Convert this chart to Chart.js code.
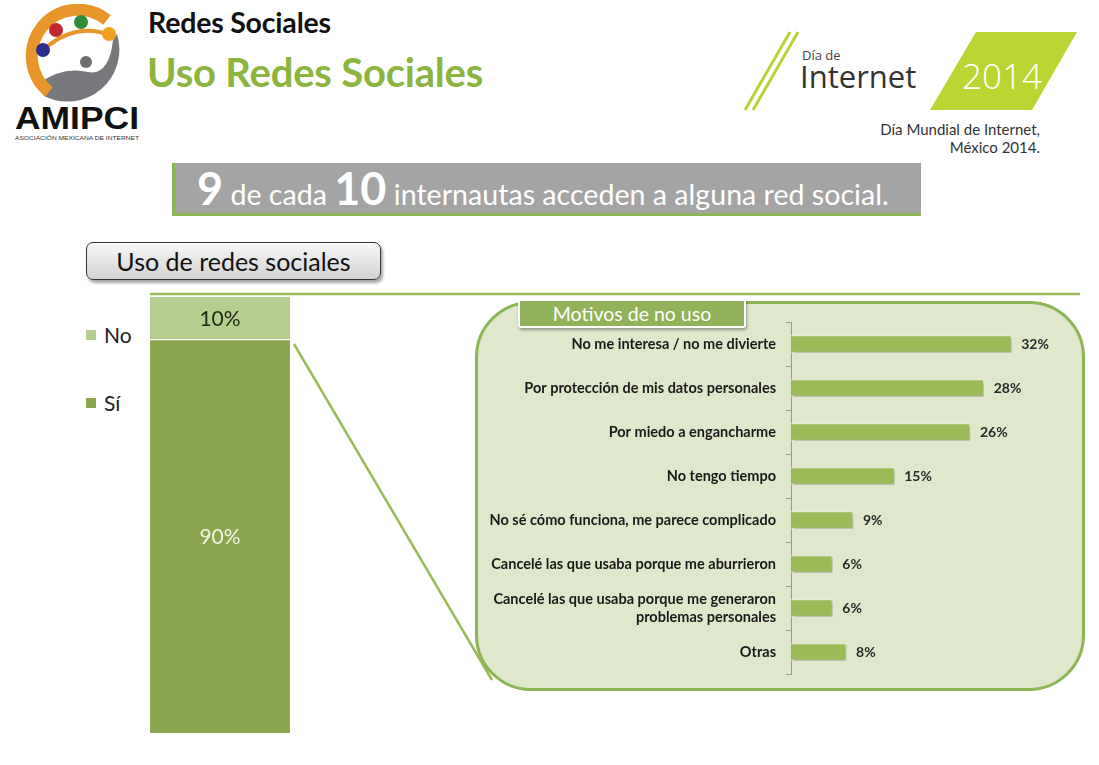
<!DOCTYPE html>
<html>
<head>
<meta charset="utf-8">
<script src="https://cdn.jsdelivr.net/npm/chart.js@4.4.0/dist/chart.umd.min.js"></script>
<style>
  html, body { margin: 0; padding: 0; background: #fff; }
  body { width: 1099px; height: 765px; position: relative; overflow: hidden; font-family: Lato, "Open Sans", sans-serif; }
  .abs { position: absolute; }
  #title1 { left: 148px; top: 5px; font-size: 28.5px; font-weight: 700; color: #111; letter-spacing: -0.2px; }
  #title2 { left: 147px; top: 48px; font-size: 40px; font-weight: 700; color: #8cb43f; letter-spacing: -0.2px; }
  #banner { left: 172px; top: 163px; width: 746px; height: 50px; background: #a4a4a4;
            border-left: 3px solid #8db554; border-bottom: 3px solid #8db554; color: #fff;
            font-size: 28.6px; line-height: 50px; white-space: nowrap; }
  #banner span.big { font-size: 45px; font-weight: 700; }
  #btn { left: 86px; top: 242px; width: 293px; height: 36px; border: 1.5px solid #333; border-radius: 7px;
         background: linear-gradient(#f8f8f8, #d2d2d2); box-shadow: 2px 3px 3px rgba(0,0,0,0.35);
         font-size: 25px; text-align: center; line-height: 36px; color: #111; }
  .leg { font-size: 21px; color: #222; }
  .leg i { display: inline-block; width: 10px; height: 10px; margin-right: 8px; vertical-align: 3px; }
  #box { left: 475px; top: 301px; width: 604px; height: 384px; border: 3px solid #8db554; border-radius: 56px;
         background: #dfe8cb; }
  #tab { left: 518px; top: 299px; width: 224px; height: 25px; background: #92b25a; border: 2px solid #fff;
         border-radius: 3px; box-shadow: 1px 2px 3px rgba(0,0,0,0.35); color: #fff; font-size: 19.5px;
         text-align: center; line-height: 25px; }
  .small { font-size: 15px; color: #333; text-align: right; }
</style>
</head>
<body>

<!-- AMIPCI logo -->
<svg class="abs" style="left:12px;top:4px" width="135" height="140">
  <path d="M26 80 Q50 62 76 68 Q97 72 101 36 L105 30 A52 52 0 0 1 32 92 Z" fill="#77787b"/>
  <path d="M95 16 A46 46 0 1 0 37 88" fill="none" stroke="#e8962a" stroke-width="12"/>
  <path d="M36 42 Q66 18 100 32" fill="none" stroke="#e8962a" stroke-width="4"/>
  <circle cx="44" cy="26" r="7" fill="#c0272d"/>
  <circle cx="69" cy="18" r="7" fill="#2e8b3a"/>
  <circle cx="97" cy="30" r="7" fill="#f0a21d"/>
  <circle cx="31" cy="46" r="7" fill="#2c2c8c"/>
  <circle cx="74" cy="58" r="6" fill="#6e6e6e"/>
  <text x="3" y="125" font-family="Liberation Sans, Arial" font-weight="700" font-size="31" fill="#111"
        textLength="124" lengthAdjust="spacingAndGlyphs">AMIPCI</text>
  <text x="3" y="136" font-family="Liberation Sans, Arial" font-size="5.6" fill="#333"
        textLength="124" lengthAdjust="spacingAndGlyphs">ASOCIACIÓN MEXICANA DE INTERNET</text>
</svg>

<div id="title1" class="abs">Redes Sociales</div>
<div id="title2" class="abs">Uso Redes Sociales</div>

<!-- Dia de Internet logo -->
<svg class="abs" style="left:740px;top:26px" width="350" height="90">
  <line x1="5" y1="84" x2="50" y2="6" stroke="#b8d33a" stroke-width="3"/>
  <line x1="13" y1="84" x2="58" y2="6" stroke="#b8d33a" stroke-width="3"/>
  <text x="62" y="34" font-family="Open Sans, sans-serif" font-size="13" fill="#444">Día de</text>
  <text x="60" y="62" font-family="Open Sans, sans-serif" font-size="31" fill="#333">Internet</text>
  <polygon points="190,84 236,6 337,6 292,84" fill="#bad532"/>
  <text x="222" y="63" font-family="Open Sans, sans-serif" font-size="35" font-weight="300" fill="#fff">2014</text>
</svg>
<div class="abs small" style="left:780px;top:120px;width:260px;">Día Mundial de Internet,</div>
<div class="abs small" style="left:780px;top:138px;width:260px;">México 2014.</div>

<div id="banner" class="abs">&nbsp;&nbsp;&nbsp;<span class="big">9</span> de cada <span class="big">10</span> internautas acceden a alguna red social.</div>

<div id="btn" class="abs">Uso de redes sociales</div>

<div class="abs leg" style="left:86px;top:322px"><i style="background:#b6cd90"></i>No</div>
<div class="abs leg" style="left:86px;top:390px"><i style="background:#8ba64e"></i>Sí</div>

<!-- connector lines -->
<svg class="abs" style="left:0;top:0" width="1099" height="765">
  <line x1="150" y1="294" x2="1080" y2="294" stroke="#9bbb59" stroke-width="2.5"/>
  <line x1="294" y1="344" x2="492" y2="680" stroke="#9bbb59" stroke-width="2.5"/>
</svg>

<div id="box" class="abs"></div>
<div id="tab" class="abs">Motivos de no uso</div>

<div class="abs" style="left:150px;top:297px;width:140px;height:436px;">
  <canvas id="useChart"></canvas>
</div>
<div class="abs" style="left:480px;top:318px;width:600px;height:360px;">
  <canvas id="reasonChart"></canvas>
</div>

<script>
// Uso de redes sociales
const useCategory = ["Uso de redes sociales"];
const useSi = [90];
const useNo = [10];

// Motivos de no uso
const reasonLabels = [
  "No me interesa / no me divierte",
  "Por protección de mis datos personales",
  "Por miedo a engancharme",
  "No tengo tiempo",
  "No sé cómo funciona, me parece complicado",
  "Cancelé las que usaba porque me aburrieron",
  ["Cancelé las que usaba porque me generaron", "problemas personales"],
  "Otras"
];
const reasonValues = [32, 28, 26, 15, 9, 6, 6, 8];

const fontFamily = "Lato, 'Open Sans', sans-serif";

// labels in the middle of the stacked segments
const segmentLabels = {
  id: "segmentLabels",
  afterDatasetsDraw(chart) {
    const ctx = chart.ctx;
    ctx.save();
    ctx.textAlign = "center";
    ctx.textBaseline = "middle";
    ctx.font = "21px " + fontFamily;
    chart.data.datasets.forEach((ds, i) => {
      chart.getDatasetMeta(i).data.forEach((bar, j) => {
        const mid = (bar.y + bar.base) / 2;
        ctx.fillStyle = ds.labelColor;
        ctx.fillText(ds.data[j] + "%", bar.x, mid);
      });
    });
    ctx.restore();
  }
};

new Chart(document.getElementById("useChart"), {
  type: "bar",
  data: {
    labels: useCategory,
    datasets: [
      { label: "Sí", data: useSi, backgroundColor: "#8ba64e", labelColor: "#f2f5e6", borderWidth: 0 },
      { label: "No", data: useNo, backgroundColor: "#b6cd90", labelColor: "#1e2a10",
        borderColor: "#ffffff", borderWidth: { bottom: 2 }, borderSkipped: false }
    ]
  },
  options: {
    responsive: true,
    maintainAspectRatio: false,
    animation: false,
    layout: { padding: 0 },
    datasets: { bar: { barPercentage: 1, categoryPercentage: 1 } },
    scales: {
      x: { stacked: true, display: false },
      y: { stacked: true, display: false, min: 0, max: 100 }
    },
    plugins: { legend: { display: false }, tooltip: { enabled: false } }
  },
  plugins: [segmentLabels]
});

// value labels at the end of the bars, plus a soft shadow under the bars
const barExtras = {
  id: "barExtras",
  beforeDatasetsDraw(chart) {
    const ctx = chart.ctx;
    ctx.save();
    ctx.shadowColor = "rgba(0,0,0,0.3)";
    ctx.shadowBlur = 3;
    ctx.shadowOffsetX = 2;
    ctx.shadowOffsetY = 2;
  },
  afterDatasetsDraw(chart) {
    const ctx = chart.ctx;
    ctx.restore();
    ctx.save();
    ctx.font = "bold 14px " + fontFamily;
    ctx.fillStyle = "#2a2a2a";
    ctx.textAlign = "left";
    ctx.textBaseline = "middle";
    chart.getDatasetMeta(0).data.forEach((bar, i) => {
      ctx.fillText(reasonValues[i] + "%", bar.x + 10, bar.y);
    });
    ctx.restore();
  }
};

new Chart(document.getElementById("reasonChart"), {
  type: "bar",
  data: {
    labels: reasonLabels,
    datasets: [{
      data: reasonValues,
      backgroundColor: "#9bbb59",
      borderColor: "#f3f7e9",
      borderWidth: 1,
      borderSkipped: "left",
      barThickness: 17
    }]
  },
  options: {
    indexAxis: "y",
    responsive: true,
    maintainAspectRatio: false,
    animation: false,
    layout: { padding: { top: 4, bottom: 4, left: 0, right: 0 } },
    scales: {
      x: { display: false, min: 0, max: 42 },
      y: {
        afterFit(scale) {
          scale.width = 311;
          scale.paddingTop = 0;
          scale.paddingBottom = 0;
        },
        grid: { drawOnChartArea: false, offset: true, tickLength: 5, color: "#9a9a9a" },
        border: { display: true, color: "#9a9a9a", width: 1 },
        ticks: {
          color: "#1a1a1a",
          padding: 10,
          font: { family: fontFamily, size: 14.5, weight: "bold", lineHeight: 1.25 }
        }
      }
    },
    plugins: { legend: { display: false }, tooltip: { enabled: false } }
  },
  plugins: [barExtras]
});
</script>
</body>
</html>
